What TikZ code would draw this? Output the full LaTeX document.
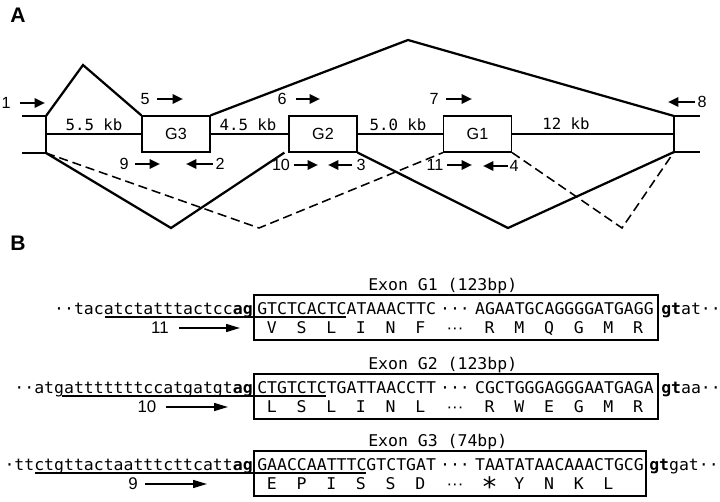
\documentclass[tikz,border=0pt]{standalone}
\usepackage{fontspec}
\setmainfont{Liberation Sans}
\newfontfamily\seqf[FakeStretch=1.02]{DejaVu Sans Mono}
\usetikzlibrary{arrows.meta}
\newcommand\stp{\raisebox{-0.75ex}{\fontsize{19}{19}\selectfont *}}
\begin{document}
\begin{tikzpicture}[x=0.25mm,y=-0.25mm,
  exon/.style={draw,line width=0.9pt,minimum width=17mm,minimum height=9mm,inner sep=0pt,font=\fontsize{11.5}{12}\selectfont},
  intron/.style={line width=0.9pt},
  splice/.style={line width=1.6pt},
  altsplice/.style={line width=1.1pt,dash pattern=on 2.3mm off 1.2mm},
  primer/.style={line width=1.7pt,-{Triangle[length=2.6mm,width=2.3mm]}},
  plab/.style={font=\fontsize{11.5}{12}\selectfont,inner sep=0pt},
  kb/.style={font=\seqf\fontsize{11}{12}\selectfont,inner sep=0pt},
  seq/.style={font=\seqf\fontsize{11.5}{12}\selectfont,inner sep=0pt},
  aadot/.style={font=\fontsize{12}{12}\selectfont,inner sep=0pt},
  seqbox/.style={line width=0.9pt},
  uline/.style={line width=0.8pt},
  longarrow/.style={line width=1.1pt,-{Triangle[length=3.5mm,width=2mm]}},
  panel/.style={font=\bfseries\fontsize{15}{16}\selectfont,inner sep=0pt}]
\useasboundingbox (0,0) rectangle (720,502);

% ---------------- Part A ----------------
\node[panel] (labA) at (18,15) {A};
\node[exon] (G3) at (176,134) {G3};
\node[exon] (G2) at (323,134) {G2};
\node[exon] (G1) at (477.5,134) {G1};
\coordinate (Ltop) at (46,116); \coordinate (Lbot) at (46,153); \coordinate (Lmid) at (46,134);
\coordinate (Lend1) at (22,116); \coordinate (Lend2) at (22,153);
\coordinate (Rtop) at (674,116); \coordinate (Rbot) at (674,152); \coordinate (Rmid) at (674,134);
\coordinate (Rend1) at (700,116); \coordinate (Rend2) at (700,152);
\draw[intron] (Lend1) -- (Ltop) -- (Lbot) -- (Lend2);
\draw[intron] (Rend1) -- (Rtop) -- (Rbot) -- (Rend2);
\draw[intron] (Lmid) -- (G3.west);
\draw[intron] (G3.east) -- (G2.west);
\draw[intron] (G2.east) -- (G1.west);
\draw[intron] (G1.east) -- (Rmid);
\coordinate (pk1) at (83,65); \coordinate (pk2) at (408,40);
\coordinate (vl1) at (171,228); \coordinate (vl2) at (508,228);
\coordinate (vd1) at (259,228); \coordinate (vd2) at (622,228);
\draw[splice] (Ltop) -- (pk1) -- (G3.north west);
\draw[splice] (G3.north east) -- (pk2) -- (Rtop);
\draw[splice] (Lbot) -- (vl1) -- ([xshift=-1mm]G2.south west);
\draw[splice] (G2.south east) -- (vl2) -- (Rbot);
\draw[altsplice] (Lbot) -- (vd1) -- (G1.south west);
\draw[altsplice] (G1.south east) -- (vd2) -- (Rbot);

\node[kb] (kb1) at (94,125) {5.5 kb};
\node[kb] (kb2) at (248,125) {4.5 kb};
\node[kb] (kb3) at (398,125) {5.0 kb};
\node[kb] (kb4) at (566,124) {12 kb};

% primers
\node[plab] (n1) at (6,103) {1};   \coordinate (a1s) at (20,103);  \coordinate (a1e) at (45,103);
\node[plab] (n5) at (145,99) {5};  \coordinate (a5s) at (157,99);  \coordinate (a5e) at (183,99);
\node[plab] (n6) at (282,99) {6};  \coordinate (a6s) at (296,99);  \coordinate (a6e) at (320,99);
\node[plab] (n7) at (434,99) {7};  \coordinate (a7s) at (446,99);  \coordinate (a7e) at (472,99);
\node[plab] (n8) at (702,102) {8}; \coordinate (a8s) at (695,102); \coordinate (a8e) at (668,102);
\node[plab] (n9) at (124,164) {9}; \coordinate (a9s) at (135,164); \coordinate (a9e) at (160,164);
\node[plab] (n2) at (220,164) {2}; \coordinate (a2s) at (213,164); \coordinate (a2e) at (186,164);
\node[plab] (n10) at (281,165) {10}; \coordinate (a10s) at (294,165); \coordinate (a10e) at (318,165);
\node[plab] (n3) at (361,165) {3}; \coordinate (a3s) at (352,165); \coordinate (a3e) at (328,165);
\node[plab] (n11) at (435,165) {11}; \coordinate (a11s) at (447,165); \coordinate (a11e) at (472,165);
\node[plab] (n4) at (514,166) {4}; \coordinate (a4s) at (508,166); \coordinate (a4e) at (483,166);
\foreach \p in {1,5,6,7,8,9,2,10,3,11,4} \draw[primer] (a\p s) -- (a\p e);

% ---------------- Part B ----------------
\node[panel] (labB) at (18,243) {B};

% Row G1
\node[seq,anchor=base west] (h1) at (368,290) {Exon G1 (123bp)};
\draw[seqbox] (254,295) rectangle (658,340);
\node[seq,anchor=base east] (f1L) at (253,314.5) {··tacatctatttactcc\textbf{ag}};
\node[seq,anchor=base west] (s1L) at (257,314.5) {GTCTCACTCATAAACTTC};
\node[seq,anchor=base] (d1) at (455,314.5) {···};
\node[seq,anchor=base west] (s1R) at (474.8,314.5) {AGAATGCAGGGGATGAGG};
\node[seq,anchor=base west] (f1R) at (661,314.5) {\textbf{gt}at··};
\foreach \a [count=\i from 0] in {V,S,L,I,N,F}
  \node[seq,anchor=base] (a1l\i) at ({257+(3*\i+1.5)*9.9},333.5) {\a};
\node[aadot,anchor=base] (ad1) at (455,333.5) {···};
\foreach \a [count=\i from 0] in {R,M,Q,G,M,R}
  \node[seq,anchor=base] (a1r\i) at ({474.8+(3*\i+1.5)*9.9},333.5) {\a};
\coordinate (u1s) at (104.5,317); \coordinate (u1e) at (346,317);
\draw[uline] (u1s) -- (u1e);
\node[plab,font=\fontsize{12}{12}\selectfont] (b11) at (160,328) {11};
\coordinate (b11s) at (179,328); \coordinate (b11e) at (240,328);
\draw[longarrow] (b11s) -- (b11e);

% Row G2
\node[seq,anchor=base west] (h2) at (368,369) {Exon G2 (123bp)};
\draw[seqbox] (254,374) rectangle (658,419);
\node[seq,anchor=base east] (f2L) at (253,393.5) {··atgatttttttccatgatgt\textbf{ag}};
\node[seq,anchor=base west] (s2L) at (257,393.5) {CTGTCTCTGATTAACCTT};
\node[seq,anchor=base] (d2) at (455,393.5) {···};
\node[seq,anchor=base west] (s2R) at (474.8,393.5) {CGCTGGGAGGGAATGAGA};
\node[seq,anchor=base west] (f2R) at (661,393.5) {\textbf{gt}aa··};
\foreach \a [count=\i from 0] in {L,S,L,I,N,L}
  \node[seq,anchor=base] (a2l\i) at ({257+(3*\i+1.5)*9.9},412.5) {\a};
\node[aadot,anchor=base] (ad2) at (455,412.5) {···};
\foreach \a [count=\i from 0] in {R,W,E,G,M,R}
  \node[seq,anchor=base] (a2r\i) at ({474.8+(3*\i+1.5)*9.9},412.5) {\a};
\coordinate (u2s) at (62,396); \coordinate (u2e) at (326,396);
\draw[uline] (u2s) -- (u2e);
\node[plab,font=\fontsize{12}{12}\selectfont] (b10) at (147,407) {10};
\coordinate (b10s) at (166,407); \coordinate (b10e) at (228,407);
\draw[longarrow] (b10s) -- (b10e);

% Row G3
\node[seq,anchor=base west] (h3) at (368,446) {Exon G3 (74bp)};
\draw[seqbox] (254,451) rectangle (646,496);
\node[seq,anchor=base east] (f3L) at (253,470.5) {·ttctgttactaatttcttcatt\textbf{ag}};
\node[seq,anchor=base west] (s3L) at (257,470.5) {GAACCAATTTCGTCTGAT};
\node[seq,anchor=base] (d3) at (455,470.5) {···};
\node[seq,anchor=base west] (s3R) at (474.8,470.5) {TAATATAACAAACTGCG};
\node[seq,anchor=base west] (f3R) at (649,470.5) {\textbf{gt}gat··};
\foreach \a [count=\i from 0] in {E,P,I,S,S,D}
  \node[seq,anchor=base] (a3l\i) at ({257+(3*\i+1.5)*9.9},489.5) {\a};
\node[aadot,anchor=base] (ad3) at (455,489.5) {···};
\foreach \a [count=\i from 0] in {\stp,Y,N,K,L}
  \node[seq,anchor=base] (a3r\i) at ({474.8+(3*\i+1.5)*9.9},489.5) {\a};
\coordinate (u3s) at (35,473); \coordinate (u3e) at (366,473);
\draw[uline] (u3s) -- (u3e);
\node[plab,font=\fontsize{12}{12}\selectfont] (b9) at (133,484) {9};
\coordinate (b9s) at (145,484); \coordinate (b9e) at (207,484);
\draw[longarrow] (b9s) -- (b9e);
\end{tikzpicture}
\end{document}
